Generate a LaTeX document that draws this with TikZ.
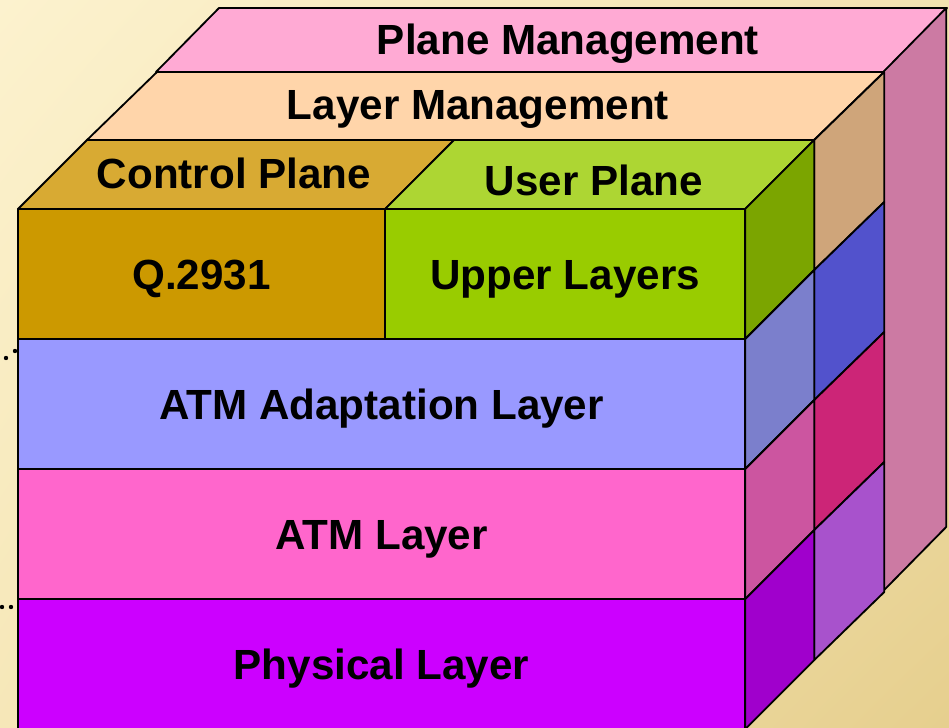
\documentclass[tikz,border=0pt]{standalone}
\usepackage{fontspec}
\setmainfont{Liberation Sans}
\usepackage{xcolor}
\usepackage{tikz}
\usetikzlibrary{positioning,shadings}

\definecolor{bgtl}{HTML}{FCF2CE}
\definecolor{bgtr}{HTML}{F2E2B0}
\definecolor{bgbl}{HTML}{F6E7B8}
\definecolor{bgbr}{HTML}{E6CF8E}
\definecolor{pmtop}{HTML}{FFAAD4}
\definecolor{pmside}{HTML}{CC7AA3}
\definecolor{lmtop}{HTML}{FFD5AA}
\definecolor{ctrltop}{HTML}{D8AA33}
\definecolor{ctrlfront}{HTML}{CC9900}
\definecolor{usertop}{HTML}{ADD633}
\definecolor{userfront}{HTML}{99CC00}
\definecolor{aalfront}{HTML}{9999FF}
\definecolor{atmfront}{HTML}{FF66CC}
\definecolor{phyfront}{HTML}{CC00FF}
\definecolor{upperside}{HTML}{7BA500}
\definecolor{aalside}{HTML}{7B7FCC}
\definecolor{atmside}{HTML}{CC55A0}
\definecolor{physide}{HTML}{A000CC}
\definecolor{lmsidea}{HTML}{CFA57A}
\definecolor{lmsideb}{HTML}{5252CC}
\definecolor{lmsidec}{HTML}{CC2577}
\definecolor{lmsided}{HTML}{A852CC}

\begin{document}
\begin{tikzpicture}[x=0.025cm, y=-0.025cm, line join=round]
    \tikzstyle{face} = [draw=black, line width=1.3pt]
    \tikzstyle{layertext} = [font=\fontsize{30}{36}\selectfont\bfseries, inner sep=0pt, text height=21.5pt, text depth=0pt]
    \tikzstyle{frontbox} = [rectangle, face, layertext, outer sep=0pt, minimum height=3.25cm]

    % Background
    \useasboundingbox (0,0) rectangle (949,728);
    \shade [upper left=bgtl, upper right=bgtr, lower left=bgbl, lower right=bgbr] (0,0) rectangle (949,728);
    \fill (25,343) circle (2.2) (15,351) circle (2.2) (6,358) circle (2.2);
    \fill (2,607) circle (2.2) (11,607) circle (2.2);

    % Front faces
    \node [frontbox, fill=ctrlfront, minimum width=9.175cm, anchor=north west] (q2931) at (18,209) {Q.2931};
    \node [frontbox, fill=userfront, minimum width=9cm, right=0pt of q2931] (upper) {Upper Layers};
    \node [frontbox, fill=aalfront, minimum width=18.175cm, below right=0pt and 0pt of q2931.south west] (aal) {ATM Adaptation Layer};
    \node [frontbox, fill=atmfront, minimum width=18.175cm, below=0pt of aal] (atm) {ATM Layer};
    \node [frontbox, fill=phyfront, minimum width=18.175cm, below=0pt of atm] (phy) {Physical Layer};

    % Plane management (back slice)
    \filldraw [face, fill=pmtop] ([shift={(138,-137)}]q2931.north west) -- ++(728,0) -- ++(63,-64) -- ++(-728,0) -- cycle;
    \filldraw [face, fill=pmside] ([shift={(138,-137)}]upper.north east) -- ++(63,-64) -- ++(0,519) -- ++(-63,64) -- cycle;

    % Layer management (middle slice)
    \filldraw [face, fill=lmtop] ([shift={(69,-69)}]q2931.north west) -- ++(727,0) -- ++(70,-68) -- ++(-727,0) -- cycle;
    \filldraw [face, fill=lmsidea] ([shift={(69,-69)}]upper.north east) -- ++(70,-68) -- ++(0,130) -- ([shift={(69,-69)}]upper.south east) -- cycle;
    \filldraw [face, fill=lmsideb] ([shift={(69,-69)}]aal.north east) -- ++(70,-68) -- ++(0,130) -- ([shift={(69,-69)}]aal.south east) -- cycle;
    \filldraw [face, fill=lmsidec] ([shift={(69,-69)}]atm.north east) -- ++(70,-68) -- ++(0,130) -- ([shift={(69,-69)}]atm.south east) -- cycle;
    \filldraw [face, fill=lmsided] ([shift={(69,-69)}]phy.north east) -- ++(70,-68) -- ++(0,130) -- ([shift={(69,-69)}]phy.south east) -- cycle;

    % Control and user planes (front slice)
    \filldraw [face, fill=ctrltop] (q2931.north west) -- ++(69,-69) -- ++(367,0) -- (q2931.north east) -- cycle;
    \filldraw [face, fill=usertop] (upper.north west) -- ++(69,-69) -- ++(360,0) -- (upper.north east) -- cycle;
    \filldraw [face, fill=upperside] (upper.north east) -- ++(69,-69) -- ++(0,130) -- (upper.south east) -- cycle;
    \filldraw [face, fill=aalside] (aal.north east) -- ++(69,-69) -- ++(0,130) -- (aal.south east) -- cycle;
    \filldraw [face, fill=atmside] (atm.north east) -- ++(69,-69) -- ++(0,130) -- (atm.south east) -- cycle;
    \filldraw [face, fill=physide] (phy.north east) -- ++(69,-69) -- ++(0,130) -- (phy.south east) -- cycle;

    % Labels on the top faces
    \node [layertext] (planemgmt) at (568,39) {Plane Management};
    \node [layertext] (layermgmt) at (478,104) {Layer Management};
    \node [layertext] (ctrlplane) at (234,173) {Control Plane};
    \node [layertext] (userplane) at (594,180) {User Plane};
\end{tikzpicture}
\end{document}
